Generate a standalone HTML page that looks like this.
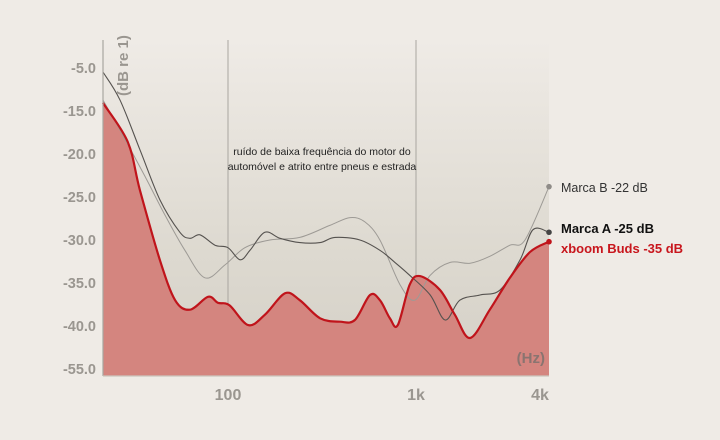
<!DOCTYPE html>
<html><head><meta charset="utf-8"><style>
html,body{margin:0;padding:0;background:#efebe6;}
svg{display:block;font-family:"Liberation Sans",sans-serif;}
</style></head><body>
<svg id="chart" width="720" height="440" viewBox="0 0 720 440">
<defs>
<linearGradient id="bg" x1="0" y1="0" x2="0" y2="1">
<stop offset="0" stop-color="#efebe6"/><stop offset="0.6" stop-color="#dedad1"/><stop offset="1" stop-color="#d4d0c6"/>
</linearGradient>
</defs>
<rect x="0" y="0" width="720" height="440" fill="#efebe6"/>
<rect x="103" y="40" width="446" height="336" fill="url(#bg)"/>
<g id="grid"></g>
<g id="series"></g>
<g id="axes"></g>
<text transform="translate(128,96) rotate(-90)" font-size="15" font-weight="bold" fill="#9a9690">(dB re 1)</text>
<text x="545" y="363" text-anchor="end" font-size="15" font-weight="bold" fill="#8a7470">(Hz)</text>
<text x="322" y="155" text-anchor="middle" font-size="10.5" fill="#222">ruído de baixa frequência do motor do</text>
<text x="322" y="170" text-anchor="middle" font-size="10.5" fill="#222">automóvel e atrito entre pneus e estrada</text>
<text x="561" y="192" font-size="12.5" fill="#333">Marca B -22 dB</text>
<text x="561" y="233" font-size="13" font-weight="bold" fill="#111">Marca A -25 dB</text>
<text x="561" y="253" font-size="13" font-weight="bold" fill="#c8161d">xboom Buds -35 dB</text>
</svg>
<script>
const yTicks=[-5,-15,-20,-25,-30,-35,-40,-55];
const yTickLabels=["-5.0","-15.0","-20.0","-25.0","-30.0","-35.0","-40.0","-55.0"];
const xTicks=[100,1000,4000];
const xTickLabels=["100","1k","4k"];
const freqX=[21.6,29.3,34,43.4,52.3,62.8,78.3,88.5,102,128,157,201,241,309,394,473,569,643,726,800,926,1050,1340,1610,1940,2470,3160,4040,5130];
const xboomY=[-13.1,-18.6,-24.2,-32.3,-37.0,-38.1,-36.6,-37.3,-37.6,-39.9,-38.7,-36.2,-37.0,-39.1,-39.5,-39.3,-36.4,-37.0,-39.1,-39.9,-35.2,-34.2,-35.8,-38.7,-44.2,-38.1,-34.4,-31.4,-30.2];
const freqA=[21.6,26.6,34,43.4,55.5,62.8,71,85.3,100,116,131,157,189,241,309,371,503,643,772,926,1190,1430,1710,2190,2800,3580,4190,5130];
const marcaAY=[-5.9,-12.4,-19.5,-25.3,-29.1,-29.8,-29.4,-30.6,-30.9,-32.3,-31.2,-29.1,-29.8,-30.3,-30.3,-29.7,-30.0,-31.2,-32.6,-34.1,-36.4,-39.3,-37.0,-36.4,-35.8,-32.3,-28.8,-29.1];
const freqB=[21.6,26.6,36.2,46.2,59,75.4,96.4,123,167,241,348,446,535,643,822,985,1190,1520,1940,2470,3160,3800,5130];
const marcaBY=[-12.4,-17.2,-22.6,-27.1,-31.2,-34.4,-32.9,-30.9,-30.0,-29.7,-28.3,-27.4,-27.9,-30.0,-35.2,-37.0,-34.1,-32.6,-32.7,-31.9,-30.6,-30.0,-23.8];

const NS="http://www.w3.org/2000/svg";
const X0=103,X1=549,YB=376,YT=40;
function xs(f){return Math.min(X1,228+188*Math.log10(f/100));}
function ys(v){
  for(let i=0;i<yTicks.length-1;i++){
    const a=yTicks[i],b=yTicks[i+1];
    if(v<=a&&v>=b){return 68+43*(i+(a-v)/(a-b));}
  }
  return v>yTicks[0]?68-(v-yTicks[0])*43/10:369;
}
function mk(tag,attrs,parent){const e=document.createElementNS(NS,tag);for(const k in attrs)e.setAttribute(k,attrs[k]);parent.appendChild(e);return e;}
function smooth(pts){
  let d="M"+pts[0][0]+","+pts[0][1];
  for(let i=0;i<pts.length-1;i++){
    const p0=pts[Math.max(0,i-1)],p1=pts[i],p2=pts[i+1],p3=pts[Math.min(pts.length-1,i+2)];
    const c1x=p1[0]+(p2[0]-p0[0])/6,c1y=p1[1]+(p2[1]-p0[1])/6;
    const c2x=p2[0]-(p3[0]-p1[0])/6,c2y=p2[1]-(p3[1]-p1[1])/6;
    d+=" C"+c1x.toFixed(1)+","+c1y.toFixed(1)+" "+c2x.toFixed(1)+","+c2y.toFixed(1)+" "+p2[0].toFixed(1)+","+p2[1].toFixed(1);
  }
  return d;
}
const grid=document.getElementById('grid'),axes=document.getElementById('axes'),ser=document.getElementById('series');
xTicks.slice(0,2).forEach((f,i)=>{
  const l=mk('line',{x1:xs(f),x2:xs(f),y1:YT,y2:YB,stroke:'#a9a6a0','stroke-width':1},grid);
  
  
});
xTicks.forEach((f,i)=>{
  const t=mk('text',{x:i==2?540:xs(f),y:400,'text-anchor':'middle','font-size':16,'font-weight':'bold',fill:'#9a9690'},axes);
  t.textContent=xTickLabels[i];
  
  
});
yTicks.forEach((v,i)=>{
  const t=mk('text',{x:96,y:ys(v)+5,'text-anchor':'end','font-size':14.5,'font-weight':'bold',fill:'#9a9690'},axes);
  t.textContent=yTickLabels[i];
  
  
});
const ax=mk('line',{x1:X0,x2:X0,y1:YT,y2:YB,stroke:'#a9a6a0','stroke-width':1.2},axes);


const bx=mk('line',{x1:X0,x2:X1,y1:YB,y2:YB,stroke:'#c9c5bd','stroke-width':1.2},axes);



const rp=freqX.map((f,i)=>[xs(f),ys(xboomY[i])]);
const area=mk('path',{d:smooth(rp)+" L"+X1+","+YB+" L"+X0+","+YB+" Z",fill:'#d4857f'},ser);


const bp=freqB.map((f,i)=>[xs(f),ys(marcaBY[i])]);
const lb=mk('path',{d:smooth(bp),fill:'none',stroke:'#9d9a95','stroke-width':1},ser);


const ap=freqA.map((f,i)=>[xs(f),ys(marcaAY[i])]);
const la=mk('path',{d:smooth(ap),fill:'none',stroke:'#55524f','stroke-width':1.1},ser);


const lr=mk('path',{d:smooth(rp),fill:'none',stroke:'#c0141b','stroke-width':2.2},ser);


[[bp,'#8f8c88','marca-b-endpoint'],[ap,'#444','marca-a-endpoint'],[rp,'#c0141b','xboom-endpoint']].forEach(([p,c,n])=>{
  const e=p[p.length-1];
  const d=mk('circle',{cx:e[0],cy:e[1],r:2.8,fill:c},ser);
  
  
});
</script>
</body></html>
